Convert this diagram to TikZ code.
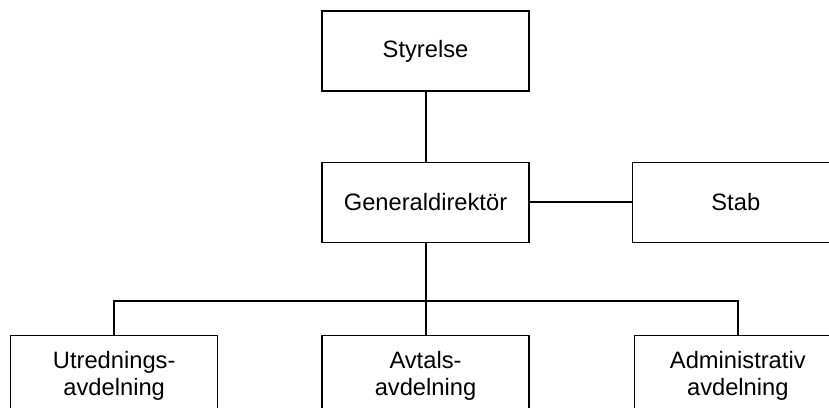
\documentclass[tikz,border=0pt]{standalone}
\usepackage{fontspec}
\setmainfont{Liberation Sans}
\usetikzlibrary{positioning}

\begin{document}
\begin{tikzpicture}[
      x=1pt, y=1pt,
      unit/.style={draw, line width=1.3pt, minimum width=207pt, minimum height=80pt, align=center,
                   inner sep=0pt, font=\fontsize{23.7}{27}\selectfont},
      link/.style={line width=2pt}
    ]
    \clip (0,0) rectangle (829,-407);

    \node[unit] (styrelse) at (425.5,-51) {Styrelse};
    \node[unit, below=70pt of styrelse] (gd) {Generaldirektör};
    \node[unit, right=102pt of gd] (stab) {Stab};

    \node[unit, below=92pt of gd] (avtal) {Avtals-\\avdelning};
    \node[unit, left=103pt of avtal] (utred) {Utrednings-\\avdelning};
    \node[unit, right=104pt of avtal] (admin) {Administrativ\\avdelning};

    \coordinate[below=58pt of gd.south] (bus);

    \draw[link] (styrelse) -- (gd);
    \draw[link] (gd) -- (stab);
    \draw[link] (gd) -- (avtal);
    \draw[link] (utred.north) |- (bus) -| (admin.north);

  \end{tikzpicture}
\end{document}
